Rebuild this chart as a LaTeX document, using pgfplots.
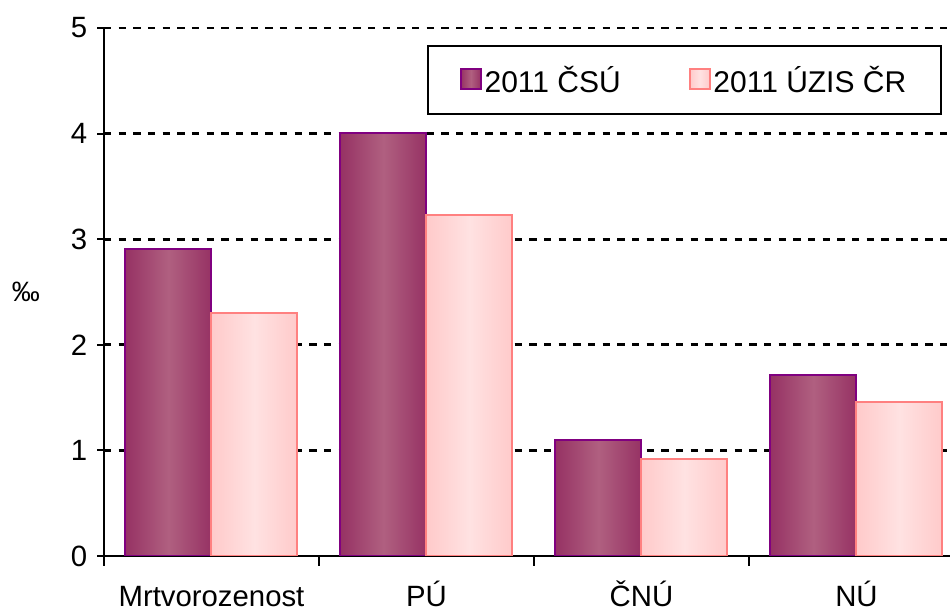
\documentclass[border=0pt]{standalone}
\usepackage{pgfplots}
\pgfplotsset{compat=1.18}
\usepackage{fontspec}
\setmainfont{Liberation Sans}

\definecolor{csuedge}{RGB}{128,0,128}
\definecolor{csudark}{RGB}{150,50,100}
\definecolor{csulight}{RGB}{176,96,128}
\definecolor{uzisedge}{RGB}{255,128,128}
\definecolor{uzisdark}{RGB}{255,202,202}
\definecolor{uzislight}{RGB}{255,226,226}

\pgfplotsset{
    csu/.style={draw=csuedge, line width=1.5pt, bar shift=-0.2,
        left color=csudark, right color=csudark, middle color=csulight},
    uzis/.style={draw=uzisedge, line width=1.5pt, bar shift=0.2,
        left color=uzisdark, right color=uzisdark, middle color=uzislight},
}

\begin{document}
\begin{tikzpicture}
    \begin{axis}[
        scale only axis,
        width=634.5pt, height=396pt,
        ybar,
        bar width=0.4,
        xmin=-0.5, xmax=3.435,
        ymin=0, ymax=5,
        axis x line=bottom, axis y line=left,
        axis line style={line width=1.5pt, -},
        xtick={0,1,2,3},
        xticklabels={Mrtvorozenost, PÚ, ČNÚ, NÚ},
        minor xtick={-0.5,0.5,1.5,2.5},
        major x tick style={draw=none},
        minor x tick style={line width=1.5pt, black},
        minor tick length=7.5pt,
        ytick={0,1,2,3,4,5},
        y tick style={line width=1.5pt, black},
        major tick length=5pt,
        tick align=outside,
        ymajorgrids,
        major grid style={line width=2.2pt, dash pattern=on 5.5pt off 5.5pt, black},
        tick label style={font=\fontsize{22}{26}\selectfont},
        /pgf/number format/assume math mode=true,
        xticklabel style={anchor=base, yshift=-33pt, inner sep=0pt, text depth=0pt},
        yticklabel style={xshift=-4pt},
        ylabel={‰},
        every axis y label/.style={at={(rel axis cs:0,0.5)}, anchor=center,
            xshift=-58.5pt, font=\fontsize{21}{25}\selectfont},
        legend columns=2,
        legend style={at={(0.9905,0.9678)}, anchor=north east,
            draw=black, line width=1.5pt,
            inner xsep=24pt, inner ysep=13pt,
            font=\fontsize{22.5}{26}\selectfont,
            nodes={inner sep=2pt},
            /tikz/every even column/.append style={column sep=49pt}},
        legend image code/.code={
            \draw[#1] (0pt,-7pt) rectangle (15pt,8pt);
        },
    ]
        % ČSÚ
        \addplot[csu] coordinates {(0,2.91)};
        \addplot[csu, forget plot] coordinates {(1,4.01)};
        \addplot[csu, forget plot] coordinates {(2,1.10)};
        \addplot[csu, forget plot] coordinates {(3,1.71)};
        % ÚZIS ČR
        \addplot[uzis] coordinates {(0,2.30)};
        \addplot[uzis, forget plot] coordinates {(1,3.23)};
        \addplot[uzis, forget plot] coordinates {(2,0.92)};
        \addplot[uzis, forget plot] coordinates {(3,1.46)};
        \legend{2011 ČSÚ, 2011 ÚZIS ČR}
    \end{axis}
    \pgfresetboundingbox
    \path[use as bounding box] (current axis.south west) ++(-78pt,-41.25pt)
        rectangle ([yshift=21pt]current axis.north east);
\end{tikzpicture}
\end{document}
